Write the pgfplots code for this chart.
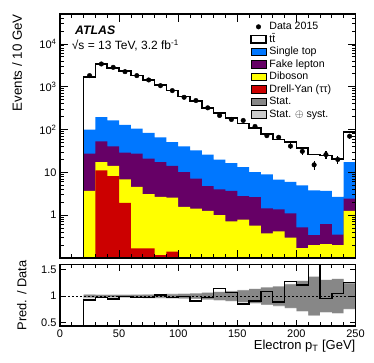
\documentclass[border=0pt]{standalone}
\usepackage{fontspec}
\setmainfont{Liberation Sans}
\usepackage{pgfplots}
\pgfplotsset{compat=1.18}
\usepackage{pgfplotstable}

\definecolor{stblue}{RGB}{0,119,255}
\definecolor{fakepurple}{RGB}{102,0,102}
\definecolor{dibyellow}{RGB}{255,255,0}
\definecolor{dyred}{RGB}{204,0,0}
\definecolor{statgray}{RGB}{135,135,135}
\definecolor{systgray}{RGB}{204,204,204}

% cumulative stack tops per bin (left edge), last row = right edge
\pgfplotstableread{
x stop fake dib dy
20 99 27.4 3.7 0.01
30 194 52.8 17.4 11.2
40 163 40.5 14.1 8.2
50 129 28.9 6.9 1.93
60 105 27.4 4.6 0.168
70 84 20.9 3.1 0.168
80 66 17.4 2.67 0.117
90 51 14.1 2.58 0.14
100 40.5 10.2 1.56 0.01
110 32.6 7.1 1.43 0.105
120 25.9 4.8 1.26 0.01
130 19.8 4.0 1.0 0.01
140 16.5 3.7 0.72 0.01
150 13.3 2.8 0.79 0.01
160 10.2 2.65 0.57 0.01
170 9.0 1.45 0.375 0.01
180 6.8 1.36 0.42 0.01
190 6.0 1.1 0.30 0.01
200 5.0 0.52 0.17 0.01
210 3.8 0.34 0.20 0.01
220 3.7 0.62 0.21 0.01
230 2.67 0.35 0.20 0.01
240 17.4 2.45 1.26 0.01
250 17.4 2.45 1.26 0.01
}\stack

% total prediction (ttbar on top of the stack)
\pgfplotstableread{
x y
20 0.001
20 1680
30 3350
40 2760
50 2300
60 1830
70 1460
80 1090
90 815
100 590
110 460
120 322
130 243
140 184
150 139
160 107
170 79
180 59
190 52
200 37.5
210 26
220 24.8
230 20.8
240 88
250 88
}\total

\pgfplotstableread{
x y ey
25 1820 42.7
35 3400 58.3
45 2840 53.3
55 2250 47.4
65 1820 42.7
75 1440 37.9
85 1060 32.6
95 813 28.5
105 567 23.8
115 476 21.8
125 322 17.9
135 213 14.6
145 172 13.1
155 163 12.8
165 118 10.9
175 72 8.5
185 66 8.1
195 41 6.4
205 31 5.6
215 15 3.9
225 26 5.1
235 20 4.5
245 70 8.4
}\data

\pgfplotstableread{
x r
20 0
20 0.93
30 0.975
40 0.944
50 0.99
60 0.98
70 0.98
80 1.02
90 0.97
100 0.99
110 0.91
120 0.975
130 1.14
140 1.07
150 0.85
160 0.91
170 1.09
180 0.89
190 1.27
200 1.21
210 1.70
220 0.955
230 1.05
240 1.26
250 1.26
}\ratioline

% uncertainty bands: stat (su/sd), stat+syst (tu/td)
\pgfplotstableread{
x su sd tu td
20 1.025 0.975 1.04 0.96
30 1.02 0.98 1.035 0.965
40 1.02 0.98 1.035 0.965
50 1.02 0.98 1.035 0.965
60 1.022 0.978 1.035 0.965
70 1.025 0.975 1.04 0.96
80 1.03 0.97 1.04 0.96
90 1.035 0.965 1.045 0.955
100 1.04 0.96 1.05 0.95
110 1.045 0.955 1.055 0.945
120 1.06 0.94 1.07 0.93
130 1.075 0.925 1.085 0.915
140 1.09 0.91 1.1 0.9
150 1.11 0.89 1.12 0.88
160 1.13 0.87 1.14 0.86
170 1.16 0.84 1.17 0.83
180 1.18 0.82 1.19 0.81
190 1.22 0.78 1.23 0.77
200 1.28 0.72 1.29 0.71
210 1.36 0.64 1.37 0.63
220 1.3 0.7 1.31 0.69
230 1.32 0.68 1.33 0.67
240 1.24 0.76 1.25 0.75
250 1.24 0.76 1.25 0.75
}\band

\pgfplotsset{
  boxleg/.style={legend image code/.code={\path[##1] (0.8pt,-3.8pt) rectangle (16.2pt,3.8pt);}},
  hist/.style={ybar interval, draw=none, forget plot},
  atlasaxis/.style={
    scale only axis, width=295.5pt,
    xmin=0, xmax=250,
    axis on top,
    axis line style={line width=1.1pt},
    every tick/.style={black, line width=0.8pt},
    xtick={0,50,...,250}, minor x tick num=4,
    tick label style={font=\fontsize{11}{13}\selectfont},
    /pgf/number format/assume math mode=true,
  },
}

\begin{document}
\begin{tikzpicture}
\path[use as bounding box] (-60pt,-105pt) rectangle (314pt,258pt);

\begin{axis}[atlasaxis,
  at={(0pt,0pt)}, anchor=south west, height=244pt,
  ymode=log, ymin=0.1, ymax=5e4, log origin y=infty,
  major tick length=8pt, minor tick length=4pt,
  xticklabels={},
  ytick={1,10,100,1000,10000},
  yticklabels={1,10,{10\textsuperscript{2}},{10\textsuperscript{3}},{10\textsuperscript{4}}},
  minor ytick={0.2,0.3,0.4,0.5,0.6,0.7,0.8,0.9,2,3,4,5,6,7,8,9,20,30,40,50,60,70,80,90,200,300,400,500,600,700,800,900,2000,3000,4000,5000,6000,7000,8000,9000,20000,30000,40000},
  ylabel={Events / 10 GeV},
  ylabel style={at={(axis description cs:-0.128,1)}, anchor=south east, inner sep=0pt, font=\fontsize{13.3}{15}\selectfont},
  legend style={at={(axis description cs:0.643,0.969)}, anchor=north west, draw=none, fill=none,
    inner sep=0pt, outer sep=0pt, font=\fontsize{10.6}{12}\selectfont, row sep=2pt,
    nodes={inner sep=0pt, text height=8pt, text depth=2.5pt},
    /tikz/every odd column/.style={column sep=2.5pt}},
  legend cell align=left,
]
\addlegendimage{only marks, mark=*, mark size=2.3pt, black}
\addlegendentry{Data 2015}
\addlegendimage{boxleg, draw=black, line width=1.5pt, fill=white}
\addlegendentry{t\={t}}
\addlegendimage{boxleg, fill=stblue}
\addlegendentry{Single top}
\addlegendimage{boxleg, fill=fakepurple}
\addlegendentry{Fake lepton}
\addlegendimage{boxleg, fill=dibyellow}
\addlegendentry{Diboson}
\addlegendimage{boxleg, fill=dyred}
\addlegendentry{Drell-Yan (ττ)}
\addlegendimage{boxleg, fill=statgray}
\addlegendentry{Stat.}
\addlegendimage{boxleg, fill=systgray}
\addlegendentry{Stat. $\oplus$ syst.}

\addplot[hist, fill=stblue] table[x=x, y=stop] {\stack};
\addplot[hist, fill=fakepurple] table[x=x, y=fake] {\stack};
\addplot[hist, fill=dibyellow] table[x=x, y=dib] {\stack};
\addplot[hist, fill=dyred] table[x=x, y=dy] {\stack};
\addplot[const plot mark left, black, line width=1.6pt, forget plot] table[x=x, y=y] {\total};
\addplot[only marks, mark=*, mark size=2.3pt, black, forget plot,
  error bars/.cd, y dir=both, y explicit, error mark=none,
  error bar style={line width=1.2pt}]
  table[x=x, y=y, y error=ey] {\data};

\node[anchor=base west, inner sep=0pt] at (axis description cs:0.0508,0.918)
  {\fontsize{12.3}{14}\selectfont\bfseries\itshape ATLAS};
\node[anchor=base west, inner sep=0pt] at (axis description cs:0.0396,0.855)
  {\fontsize{12}{14}\selectfont √s = 13 TeV, 3.2 fb\textsuperscript{-1}};
\end{axis}

\begin{axis}[atlasaxis,
  at={(0pt,-6.7pt)}, anchor=north west, height=61.3pt,
  ymin=0.44, ymax=1.59,
  major tick length=6pt, minor tick length=3.5pt,
  ytick={0.5,1,1.5},
  xlabel={Electron p\textsubscript{T} [GeV]},
  xlabel style={at={(axis description cs:1,0)}, anchor=north east, yshift=-14pt, inner sep=0pt, font=\fontsize{13}{15}\selectfont},
  ylabel={Pred. / Data},
  ylabel style={at={(axis description cs:-0.113,0.5)}, anchor=south, inner sep=0pt, font=\fontsize{12.8}{15}\selectfont},
]
% bands built from stacked bars: light up to tu, dark up to su, light up to sd, white up to td
\addplot[hist, fill=systgray] table[x=x, y=tu] {\band};
\addplot[hist, fill=statgray] table[x=x, y=su] {\band};
\addplot[hist, fill=systgray] table[x=x, y=sd] {\band};
\addplot[hist, fill=white] table[x=x, y=td] {\band};
\addplot[black, line width=1.2pt, dash pattern=on 2pt off 2pt, forget plot] coordinates {(0,1) (250,1)};
\addplot[const plot mark left, black, line width=1.3pt, forget plot] table[x=x, y=r] {\ratioline};
\end{axis}
\end{tikzpicture}
\end{document}
